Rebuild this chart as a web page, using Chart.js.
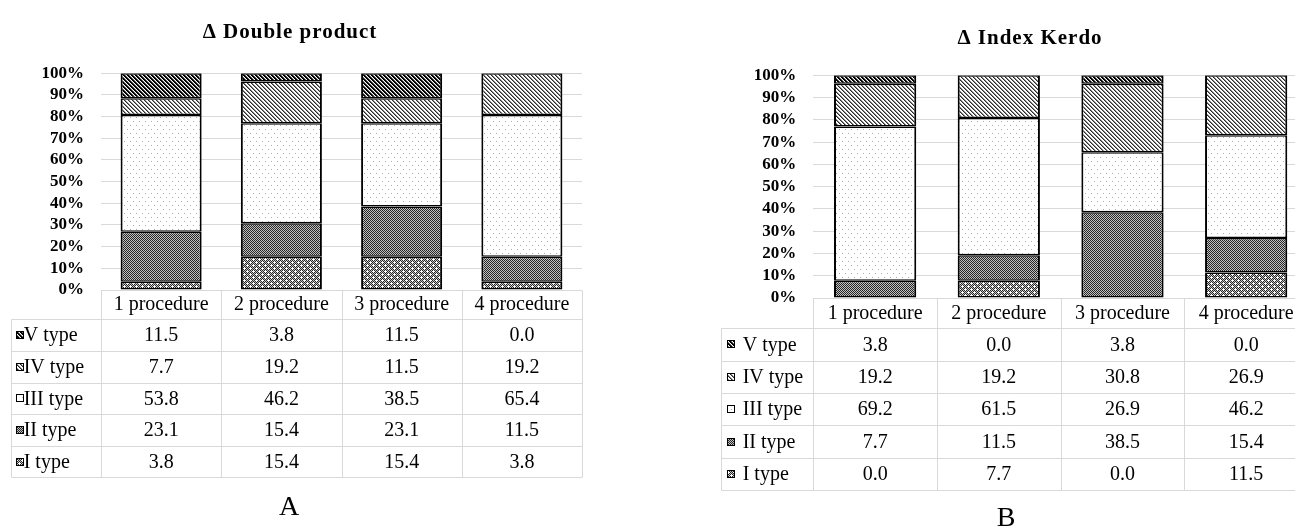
<!DOCTYPE html>
<html>
<head>
<meta charset="utf-8">
<title>Δ Double product / Δ Index Kerdo</title>
<script src="https://cdn.jsdelivr.net/npm/chart.js@4.4.1/dist/chart.umd.min.js"></script>
<style>
  html, body { margin: 0; padding: 0; background: #fff; overflow: hidden; width: 1295px; height: 531px; }
  canvas { position: absolute; top: 0; }
  #chartA { left: 0; }
  #chartB { left: 700px; }
</style>
</head>
<body>
<canvas id="chartA" width="600" height="531"></canvas>
<canvas id="chartB" width="620" height="531"></canvas>
<script>
// ---- data -------------------------------------------------------------
const categories = ['1 procedure', '2 procedure', '3 procedure', '4 procedure'];
const typeLabels = ['I type', 'II type', 'III type', 'IV type', 'V type'];
const yTickStep = 10;

// Δ Double product: share of patients (%) by type
const dpType1 = [3.8, 15.4, 15.4, 3.8];
const dpType2 = [23.1, 15.4, 23.1, 11.5];
const dpType3 = [53.8, 46.2, 38.5, 65.4];
const dpType4 = [7.7, 19.2, 11.5, 19.2];
const dpType5 = [11.5, 3.8, 11.5, 0.0];

// Δ Index Kerdo: share of patients (%) by type
const ikType1 = [0.0, 7.7, 0.0, 11.5];
const ikType2 = [7.7, 11.5, 38.5, 15.4];
const ikType3 = [69.2, 61.5, 26.9, 46.2];
const ikType4 = [19.2, 19.2, 30.8, 26.9];
const ikType5 = [3.8, 0.0, 3.8, 0.0];

// ---- fills ------------------------------------------------------------
const SERIF = "'Liberation Serif', 'Times New Roman', serif";

function tile(w, h, paint) {
  const c = document.createElement('canvas');
  c.width = w; c.height = h;
  const g = c.getContext('2d');
  paint(g);
  return g.createPattern(c, 'repeat');
}
function dot(g, x, y, color) { g.fillStyle = color; g.fillRect(x, y, 1, 1); }
function checker(g, w, h) {
  g.fillStyle = '#c0c0c0'; g.fillRect(0, 0, w, h);
  for (let y = 0; y < h; y++) for (let x = 0; x < w; x++) if ((x + y) % 2 === 0) dot(g, x, y, '#262626');
}

const fills = [
  // I type: dark dither with small white crosses
  tile(6, 6, g => {
    checker(g, 6, 6);
    [[1, 1], [4, 4]].forEach(([cx, cy]) => {
      [[0, 0], [-1, 0], [1, 0], [0, -1], [0, 1]].forEach(([dx, dy]) =>
        dot(g, (cx + dx + 6) % 6, (cy + dy + 6) % 6, '#ffffff'));
    });
  }),
  // II type: plain dark dither
  tile(2, 2, g => checker(g, 2, 2)),
  // III type: white with sparse light-blue dots
  tile(6, 8, g => {
    g.fillStyle = '#ffffff'; g.fillRect(0, 0, 6, 8);
    dot(g, 1, 1, '#8db3e2'); dot(g, 4, 5, '#8db3e2');
  }),
  // IV type: light downward diagonal
  tile(4, 4, g => {
    g.fillStyle = '#ffffff'; g.fillRect(0, 0, 4, 4);
    for (let i = 0; i < 4; i++) { dot(g, i, i, '#2a2a2a'); dot(g, (i + 1) % 4, i, '#8a8a8a'); }
  }),
  // V type: dark downward diagonal
  tile(4, 4, g => {
    g.fillStyle = '#ffffff'; g.fillRect(0, 0, 4, 4);
    for (let i = 0; i < 4; i++) { dot(g, i, i, '#000000'); dot(g, (i + 1) % 4, i, '#000000'); dot(g, (i + 2) % 4, i, '#7a7a7a'); }
  })
];

// each column is drawn as a 100% stack
function shares(series) {
  const totals = categories.map((_, i) => series.reduce((s, a) => s + a[i], 0));
  return series.map(a => a.map((v, i) => totals[i] ? v / totals[i] * 100 : 0));
}

// ---- plugins ----------------------------------------------------------
const panelText = {
  id: 'panelText',
  afterDraw(chart, _a, o) {
    const ctx = chart.ctx;
    ctx.save();
    ctx.fillStyle = '#000';
    ctx.textAlign = 'center';
    ctx.textBaseline = 'middle';
    ctx.letterSpacing = '1px';
    ctx.font = 'bold 21px ' + SERIF;
    ctx.fillText(o.title, o.titleX, o.titleY);
    ctx.letterSpacing = '0px';
    ctx.font = '28px ' + SERIF;
    ctx.fillText(o.caption, o.captionX, o.captionY);
    ctx.restore();
  }
};

const dataTable = {
  id: 'dataTable',
  afterDraw(chart, _a, o) {
    const { ctx, chartArea: ca } = chart;
    const n = chart.data.labels.length;
    const colW = (ca.right - ca.left) / n;
    const rows = chart.data.datasets.slice().reverse();
    const top = ca.bottom;
    const headBottom = top + o.headH;
    const bottom = headBottom + o.rowH * rows.length;
    const snap = v => Math.round(v) + 0.5;

    ctx.save();
    ctx.strokeStyle = '#d9d9d9';
    ctx.lineWidth = 1;
    ctx.beginPath();
    for (let i = 0; i <= n; i++) {
      const x = snap(ca.left + i * colW);
      ctx.moveTo(x, snap(top)); ctx.lineTo(x, snap(bottom));
    }
    ctx.moveTo(snap(o.left), snap(headBottom)); ctx.lineTo(snap(o.left), snap(bottom));
    for (let r = 0; r <= rows.length; r++) {
      const y = snap(headBottom + r * o.rowH);
      ctx.moveTo(snap(o.left), y); ctx.lineTo(ca.right, y);
    }
    ctx.stroke();

    ctx.font = '20px ' + SERIF;
    ctx.textBaseline = 'middle';
    rows.forEach((d, r) => {
      const cy = headBottom + (r + 0.5) * o.rowH;
      const kx = Math.round(o.left + o.keyX), ky = Math.round(cy - o.keySize / 2);
      ctx.fillStyle = d.backgroundColor;
      ctx.fillRect(kx, ky, o.keySize, o.keySize);
      ctx.strokeStyle = '#000';
      ctx.strokeRect(kx + 0.5, ky + 0.5, o.keySize - 1, o.keySize - 1);
      ctx.fillStyle = '#000';
      ctx.textAlign = 'left';
      ctx.fillText(d.label, o.left + o.textX, cy + 1);
      ctx.textAlign = 'center';
      d.values.forEach((v, i) => ctx.fillText(v.toFixed(1), ca.left + (i + 0.5) * colW, cy + 1));
    });
    ctx.restore();
  }
};

// ---- charts -----------------------------------------------------------
function buildChart(id, series, g, text) {
  const pct = shares(series);
  return new Chart(document.getElementById(id), {
    type: 'bar',
    data: {
      labels: categories,
      datasets: typeLabels.map((name, k) => ({
        label: name,
        data: pct[k],
        values: series[k],
        backgroundColor: fills[k],
        borderColor: '#000',
        borderWidth: { top: 1.5, bottom: 1.5, left: 2, right: 2 },
        borderSkipped: false,
        categoryPercentage: 1,
        barPercentage: g.barPct
      }))
    },
    options: {
      responsive: false,
      animation: false,
      events: [],
      layout: { padding: { top: g.top, right: g.right, bottom: g.bottom, left: 0 } },
      plugins: {
        legend: { display: false },
        tooltip: { enabled: false },
        title: { display: false },
        panelText: text,
        dataTable: { left: g.tableLeft, headH: g.headH, rowH: g.rowH, keyX: g.keyX, keySize: g.keySize, textX: g.textX }
      },
      scales: {
        x: {
          stacked: true,
          grid: { display: false, drawTicks: false },
          border: { display: false },
          ticks: { color: '#000', font: { family: SERIF, size: 20 }, padding: g.xPad, maxRotation: 0, autoSkip: false },
          afterFit(s) { s.height = g.headH; }
        },
        y: {
          stacked: true,
          min: 0,
          max: 100,
          ticks: { stepSize: yTickStep, autoSkip: false, callback: v => v + '%', color: '#000', font: { family: SERIF, size: 17, weight: 'bold', lineHeight: 1 }, padding: 17 },
          grid: { color: '#d9d9d9', drawTicks: false },
          border: { display: false },
          afterFit(s) { s.width = g.axisW; }
        }
      }
    },
    plugins: [dataTable, panelText]
  });
}

buildChart('chartA', [dpType1, dpType2, dpType3, dpType4, dpType5],
  { top: 73.3, bottom: 211.7, right: 18, axisW: 101, headH: 29.3, rowH: 31.6, xPad: 3,
    barPct: 0.674, tableLeft: 10.7, keyX: 5, keySize: 8, textX: 13 },
  { title: 'Δ Double product', titleX: 290, titleY: 33, caption: 'A', captionX: 289, captionY: 508 });

buildChart('chartB', [ikType1, ikType2, ikType3, ikType4, ikType5],
  { top: 75.3, bottom: 202.7, right: 12, axisW: 113.3, headH: 30.3, rowH: 32.35, xPad: 3.5,
    barPct: 0.665, tableLeft: 20.7, keyX: 6, keySize: 8, textX: 22 },
  { title: 'Δ Index Kerdo', titleX: 330, titleY: 39, caption: 'B', captionX: 306, captionY: 519 });
</script>
</body>
</html>
